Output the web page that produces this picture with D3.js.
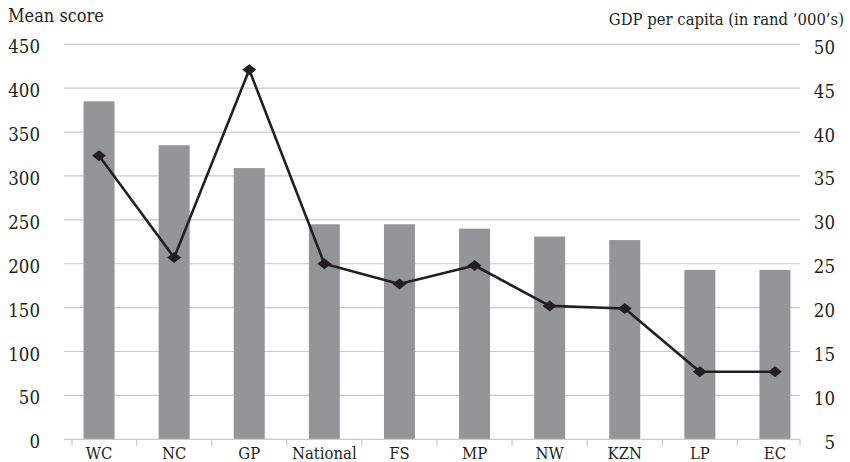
<!DOCTYPE html>
<html>
<head>
<meta charset="utf-8">
<script src="https://cdn.jsdelivr.net/npm/d3@7"></script>
<style>
  html, body { margin: 0; padding: 0; background: #fff; }
  svg { display: block; }
</style>
</head>
<body>
<svg id="chart" width="850" height="462" font-family="'DejaVu Serif Condensed', 'DejaVu Serif'"></svg>
<script>
// Provinces (plus the national figure)
const regions = ["WC", "NC", "GP", "National", "FS", "MP", "NW", "KZN", "LP", "EC"];
// Mean score per region (bars, left axis)
const meanScores = [385, 335, 309, 245, 245, 240, 231, 227, 193, 193];
// GDP per capita in rand '000 (line, right axis)
const gdpPerCapita = [37.3, 25.7, 47.1, 25.0, 22.7, 24.8, 20.2, 19.9, 12.7, 12.7];
// Axis ticks
const leftTicks = [0, 50, 100, 150, 200, 250, 300, 350, 400, 450];
const rightTicks = [5, 10, 15, 20, 25, 30, 35, 40, 45, 50];

const svg = d3.select("#chart");
const textColor = "#231f20";

const plotTop = 44.3, plotBottom = 439.3;
const gridLeft = 64, gridRight = 800;

const x = d3.scaleBand().domain(regions).range([61.5, 812.5]).padding(0);
const yLeft = d3.scaleLinear().domain([0, 450]).range([plotBottom, plotTop]);
const yRight = d3.scaleLinear().domain([5, 50]).range([plotBottom, plotTop]);

const barWidth = 31;
const gridColor = "#c9c9c9";

// horizontal gridlines
svg.append("g")
  .selectAll("line")
  .data(leftTicks.filter(d => d > 0))
  .join("line")
  .attr("x1", gridLeft).attr("x2", gridRight)
  .attr("y1", d => yLeft(d)).attr("y2", d => yLeft(d))
  .attr("stroke", gridColor).attr("stroke-width", 1.2);

// left tick labels
svg.append("g")
  .selectAll("text")
  .data(leftTicks)
  .join("text")
  .attr("x", 40)
  .attr("y", d => yLeft(d) + 9)
  .attr("text-anchor", "end")
  .attr("font-size", 18.5)
  .attr("fill", textColor)
  .text(d => d);

// right tick labels
svg.append("g")
  .selectAll("text")
  .data(rightTicks)
  .join("text")
  .attr("x", 835)
  .attr("y", d => yRight(d) + 9.5)
  .attr("text-anchor", "end")
  .attr("font-size", 18.5)
  .attr("fill", textColor)
  .text(d => d);

// bars
svg.append("g")
  .selectAll("rect")
  .data(regions)
  .join("rect")
  .attr("x", (d) => x(d) + x.bandwidth() / 2 - barWidth / 2)
  .attr("width", barWidth)
  .attr("y", (d, i) => yLeft(meanScores[i]))
  .attr("height", (d, i) => plotBottom - yLeft(meanScores[i]))
  .attr("fill", "#939598");

// category axis line and tick marks
const axisG = svg.append("g");
axisG.append("line")
  .attr("x1", gridLeft).attr("x2", gridRight)
  .attr("y1", plotBottom).attr("y2", plotBottom)
  .attr("stroke", gridColor).attr("stroke-width", 1.2);
const boundaries = regions.map(d => x(d)).concat([x(regions[regions.length - 1]) + x.bandwidth()]);
axisG.selectAll("line.tick")
  .data(boundaries)
  .join("line")
  .attr("class", "tick")
  .attr("x1", d => Math.max(72, Math.min(gridRight, d)))
  .attr("x2", d => Math.max(72, Math.min(gridRight, d)))
  .attr("y1", plotBottom).attr("y2", plotBottom + 7)
  .attr("stroke", gridColor).attr("stroke-width", 1.2);

// category labels
svg.append("g")
  .selectAll("text")
  .data(regions)
  .join("text")
  .attr("x", d => x(d) + x.bandwidth() / 2)
  .attr("y", 459)
  .attr("text-anchor", "middle")
  .attr("font-size", 16.5)
  .attr("fill", textColor)
  .text(d => d);

// GDP line
const line = d3.line()
  .x((d, i) => x(regions[i]) + x.bandwidth() / 2)
  .y(d => yRight(d));
svg.append("path")
  .datum(gdpPerCapita)
  .attr("d", line)
  .attr("fill", "none")
  .attr("stroke", "#231f20")
  .attr("stroke-width", 2.6)
  .attr("stroke-linejoin", "round");

// diamond markers
const hw = 7, hh = 5.5;
svg.append("g")
  .selectAll("path")
  .data(gdpPerCapita)
  .join("path")
  .attr("transform", (d, i) => `translate(${x(regions[i]) + x.bandwidth() / 2},${yRight(d)})`)
  .attr("d", `M0,${-hh}L${hw},0L0,${hh}L${-hw},0Z`)
  .attr("fill", "#231f20");

// axis titles
svg.append("text")
  .attr("x", 8).attr("y", 21.7)
  .attr("font-size", 18)
  .attr("fill", textColor)
  .text("Mean score");
svg.append("text")
  .attr("x", 844).attr("y", 25)
  .attr("text-anchor", "end")
  .attr("font-size", 16.5)
  .attr("fill", textColor)
  .text("GDP per capita (in rand ’000’s)");
</script>
</body>
</html>
